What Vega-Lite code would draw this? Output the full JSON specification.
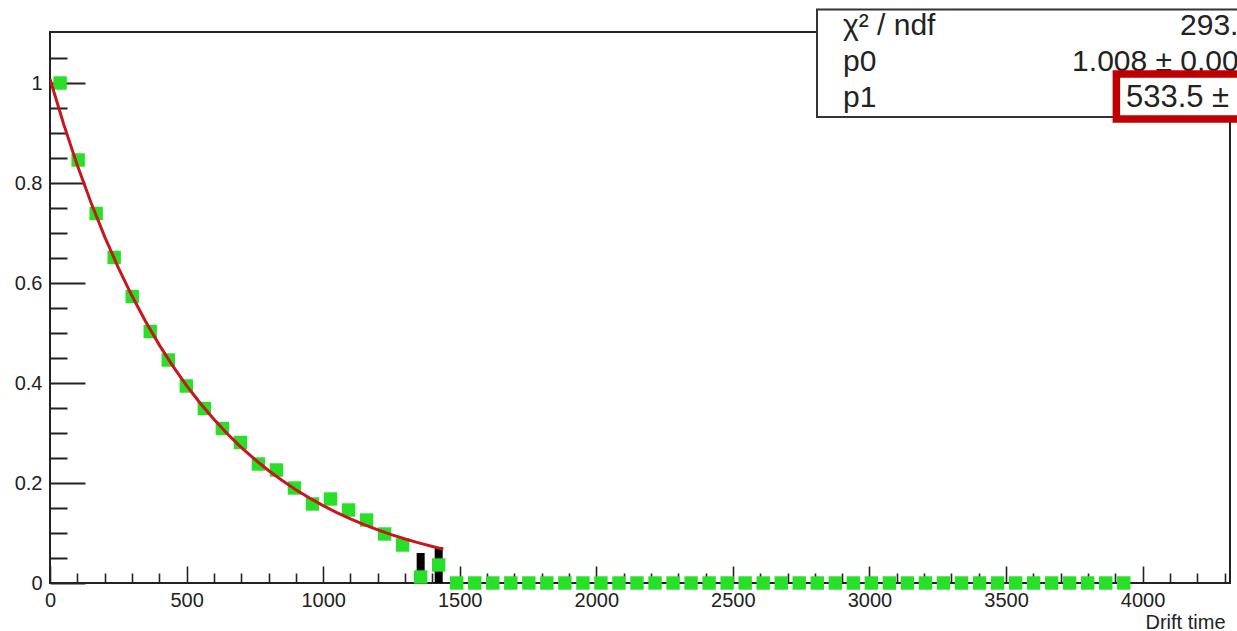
{
  "$schema": "https://vega.github.io/schema/vega-lite/v6.json",
  "width": 1180,
  "height": 551,
  "autosize": {"type": "none"},
  "padding": {"left": 50, "top": 32, "right": 7, "bottom": 48},
  "background": "white",
  "config": {
    "font": "Liberation Sans",
    "view": {"stroke": "#222", "strokeWidth": 2},
    "axis": {"grid": false, "domain": false, "labelFont": "Liberation Sans", "labelFontSize": 20, "labelColor": "#222", "tickColor": "#222", "labelOverlap": false, "labelFlush": false, "labelBound": false}
  },
  "datasets": {
    "bins": [
      {"t": 37, "frac": 1.0}, {"t": 103, "frac": 0.846}, {"t": 169, "frac": 0.739}, {"t": 235, "frac": 0.651},
      {"t": 301, "frac": 0.573}, {"t": 367, "frac": 0.503}, {"t": 433, "frac": 0.446}, {"t": 499, "frac": 0.394},
      {"t": 565, "frac": 0.349}, {"t": 631, "frac": 0.309}, {"t": 697, "frac": 0.281}, {"t": 763, "frac": 0.238},
      {"t": 829, "frac": 0.226}, {"t": 895, "frac": 0.19}, {"t": 961, "frac": 0.158}, {"t": 1027, "frac": 0.168},
      {"t": 1093, "frac": 0.146}, {"t": 1159, "frac": 0.126}, {"t": 1225, "frac": 0.098}, {"t": 1291, "frac": 0.076},
      {"t": 1357, "frac": 0.012}, {"t": 1423, "frac": 0.036}, {"t": 1489, "frac": 0}, {"t": 1555, "frac": 0},
      {"t": 1621, "frac": 0}, {"t": 1687, "frac": 0}, {"t": 1753, "frac": 0}, {"t": 1819, "frac": 0},
      {"t": 1885, "frac": 0}, {"t": 1951, "frac": 0}, {"t": 2017, "frac": 0}, {"t": 2083, "frac": 0},
      {"t": 2149, "frac": 0}, {"t": 2215, "frac": 0}, {"t": 2281, "frac": 0}, {"t": 2347, "frac": 0},
      {"t": 2413, "frac": 0}, {"t": 2479, "frac": 0}, {"t": 2545, "frac": 0}, {"t": 2611, "frac": 0},
      {"t": 2677, "frac": 0}, {"t": 2743, "frac": 0}, {"t": 2809, "frac": 0}, {"t": 2875, "frac": 0},
      {"t": 2941, "frac": 0}, {"t": 3007, "frac": 0}, {"t": 3073, "frac": 0}, {"t": 3139, "frac": 0},
      {"t": 3205, "frac": 0}, {"t": 3271, "frac": 0}, {"t": 3337, "frac": 0}, {"t": 3403, "frac": 0},
      {"t": 3469, "frac": 0}, {"t": 3535, "frac": 0}, {"t": 3601, "frac": 0}, {"t": 3667, "frac": 0},
      {"t": 3733, "frac": 0}, {"t": 3799, "frac": 0}, {"t": 3865, "frac": 0}, {"t": 3931, "frac": 0}
    ],
    "errs": [
      {"t": 1357, "lo": 0, "hi": 0.06},
      {"t": 1423, "lo": 0, "hi": 0.072}
    ],
    "fit": [
      {"t": 0, "f": 1.008}, {"t": 50, "f": 0.9178}, {"t": 100, "f": 0.8357}, {"t": 150, "f": 0.7609},
      {"t": 200, "f": 0.6929}, {"t": 250, "f": 0.6309}, {"t": 300, "f": 0.5744}, {"t": 350, "f": 0.523},
      {"t": 400, "f": 0.4763}, {"t": 450, "f": 0.4337}, {"t": 500, "f": 0.3949}, {"t": 550, "f": 0.3595},
      {"t": 600, "f": 0.3274}, {"t": 650, "f": 0.2981}, {"t": 700, "f": 0.2714}, {"t": 750, "f": 0.2471},
      {"t": 800, "f": 0.225}, {"t": 850, "f": 0.2049}, {"t": 900, "f": 0.1866}, {"t": 950, "f": 0.1699},
      {"t": 1000, "f": 0.1547}, {"t": 1050, "f": 0.1408}, {"t": 1100, "f": 0.1282}, {"t": 1150, "f": 0.1168},
      {"t": 1200, "f": 0.1063}, {"t": 1250, "f": 0.0968}, {"t": 1300, "f": 0.0881}, {"t": 1350, "f": 0.0803},
      {"t": 1400, "f": 0.0731}, {"t": 1440, "f": 0.0678}
    ]
  },
  "layer": [
    {
      "data": {"name": "errs"},
      "mark": {"type": "rule", "color": "#000", "strokeWidth": 8, "clip": true},
      "encoding": {
        "x": {
          "field": "t", "type": "quantitative",
          "scale": {"domain": [0, 4320], "nice": false, "zero": false},
          "axis": {
            "title": "Drift time",
            "titleFont": "Liberation Sans", "titleFontSize": 20, "titleFontWeight": "normal", "titleColor": "#222",
            "titleAnchor": "end", "titleAlign": "right", "titleBaseline": "alphabetic",
            "titleX": 1175, "titleY": 45,
            "values": [0,100,200,300,400,500,600,700,800,900,1000,1100,1200,1300,1400,1500,1600,1700,1800,1900,2000,2100,2200,2300,2400,2500,2600,2700,2800,2900,3000,3100,3200,3300,3400,3500,3600,3700,3800,3900,4000,4100,4200,4300],
            "tickCount": 1000,
            "labelOverlap": false,
            "format": "d",
            "labelExpr": "datum.value % 500 === 0 ? datum.label : ''",
            "tickSize": {"condition": {"test": "datum.value % 500 === 0", "value": -17}, "value": -10},
            "tickWidth": 1.6,
            "labelPadding": 24
          }
        },
        "y": {
          "field": "lo", "type": "quantitative",
          "scale": {"domain": [0, 1.102], "nice": false, "zero": false},
          "axis": {
            "title": null,
            "values": [0,0.05,0.1,0.15,0.2,0.25,0.3,0.35,0.4,0.45,0.5,0.55,0.6,0.65,0.7,0.75,0.8,0.85,0.9,0.95,1,1.05],
            "tickCount": 1000,
            "labelOverlap": false,
            "format": ".2~f",
            "labelExpr": "abs(datum.value * 5 - round(datum.value * 5)) < 0.001 ? datum.label : ''",
            "tickSize": {"condition": {"test": "abs(datum.value * 5 - round(datum.value * 5)) < 0.001", "value": -35}, "value": -17},
            "tickWidth": 2,
            "labelPadding": 43
          }
        },
        "y2": {"field": "hi"}
      }
    },
    {
      "data": {"name": "bins"},
      "mark": {"type": "square", "color": "#28e028", "opacity": 1, "size": 180, "clip": false},
      "encoding": {
        "x": {"field": "t", "type": "quantitative"},
        "y": {"field": "frac", "type": "quantitative"}
      }
    },
    {
      "data": {"name": "fit"},
      "mark": {"type": "line", "color": "#c8161e", "strokeWidth": 3, "clip": true},
      "encoding": {
        "x": {"field": "t", "type": "quantitative"},
        "y": {"field": "f", "type": "quantitative"}
      }
    },
    {
      "data": {"values": [{}]},
      "mark": {"type": "rect", "fill": "white", "stroke": "#333", "strokeWidth": 2, "clip": false},
      "encoding": {
        "x": {"datum": 2808}, "x2": {"datum": 4440},
        "y": {"datum": 1.147}, "y2": {"datum": 0.932}
      }
    },
    {
      "data": {"values": [{"s": "χ² / ndf"}]},
      "mark": {"type": "text", "align": "left", "baseline": "alphabetic", "fontSize": 30, "color": "#222", "clip": false},
      "encoding": {"x": {"datum": 2903}, "y": {"datum": 1.096}, "text": {"field": "s"}}
    },
    {
      "data": {"values": [{"s": "p0"}]},
      "mark": {"type": "text", "align": "left", "baseline": "alphabetic", "fontSize": 30, "color": "#222", "clip": false},
      "encoding": {"x": {"datum": 2903}, "y": {"datum": 1.024}, "text": {"field": "s"}}
    },
    {
      "data": {"values": [{"s": "p1"}]},
      "mark": {"type": "text", "align": "left", "baseline": "alphabetic", "fontSize": 30, "color": "#222", "clip": false},
      "encoding": {"x": {"datum": 2903}, "y": {"datum": 0.952}, "text": {"field": "s"}}
    },
    {
      "data": {"values": [{"s": "293.4 / 58"}]},
      "mark": {"type": "text", "align": "left", "baseline": "alphabetic", "fontSize": 30, "color": "#222", "clip": false},
      "encoding": {"x": {"datum": 4137}, "y": {"datum": 1.096}, "text": {"field": "s"}}
    },
    {
      "data": {"values": [{"s": "1.008 ± 0.006"}]},
      "mark": {"type": "text", "align": "left", "baseline": "alphabetic", "fontSize": 30, "color": "#222", "clip": false},
      "encoding": {"x": {"datum": 3742}, "y": {"datum": 1.024}, "text": {"field": "s"}}
    },
    {
      "data": {"values": [{"s": "533.5 ± 5.2"}]},
      "mark": {"type": "text", "align": "left", "baseline": "alphabetic", "fontSize": 31, "color": "#222", "clip": false},
      "encoding": {"x": {"datum": 3939}, "y": {"datum": 0.952}, "text": {"field": "s"}}
    },
    {
      "data": {"values": [{}]},
      "mark": {"type": "rect", "fill": null, "stroke": "#c00000", "strokeWidth": 7.5, "clip": false},
      "encoding": {
        "x": {"datum": 3904}, "x2": {"datum": 4460},
        "y": {"datum": 1.018}, "y2": {"datum": 0.928}
      }
    }
  ]
}
